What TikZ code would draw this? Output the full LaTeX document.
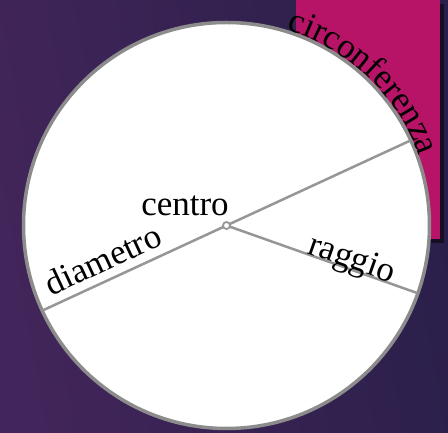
\documentclass[tikz,border=0pt]{standalone}
\usepackage{fontspec}
\setmainfont{Liberation Serif}
\usetikzlibrary{decorations.text,shadows,calc}
\definecolor{bgleft}{RGB}{66,37,90}
\definecolor{bgright}{RGB}{42,31,74}
\definecolor{magentabox}{RGB}{183,20,104}
\definecolor{rimgray}{RGB}{140,140,140}
\definecolor{linegray}{RGB}{150,150,150}
\tikzset{
  lbl/.style={font=\fontsize{35}{40}\selectfont, text=black, inner sep=0pt, anchor=base},
  chord/.style={draw=linegray, line width=2.5pt},
}
\begin{document}
\begin{tikzpicture}[x=1pt,y=1pt]
\useasboundingbox (0,0) rectangle (448,433);
\shade[left color=bgleft, right color=bgright, shading angle=100] (0,0) rectangle (448,433);
\fill[magentabox, drop shadow={shadow xshift=4pt, shadow yshift=-4pt, opacity=0.5, fill=black}] (296,194) rectangle (440,433);
\coordinate (C) at (226.5,207.5);
\draw[rimgray, fill=white, line width=3.5pt] (C) circle (203);
\coordinate (dA) at ($(C)+(24.8:202)$);
\coordinate (dB) at ($(C)+(204.8:202)$);
\coordinate (rA) at ($(C)+(-19.5:202)$);
\draw[chord] (dB) -- (dA);
\draw[chord] (C) -- (rA);
\node[circle, draw=linegray, fill=white, line width=1.8pt, minimum size=7pt, inner sep=0pt] (ctr) at (C) {};
\node[lbl] (centro) at (185,217) {centro};
\node[lbl, rotate=25] (diam) at (108,163) {diametro};
\node[lbl, rotate=-19.5] (ragg) at (349,165) {raggio};
\path[decorate, decoration={text along path, text align=center,
  text={|\fontsize{35}{40}\selectfont|circonferenza}}]
  ($(C)+(80:205)$) arc[start angle=80, end angle=12.6, radius=205];
\end{tikzpicture}
\end{document}
